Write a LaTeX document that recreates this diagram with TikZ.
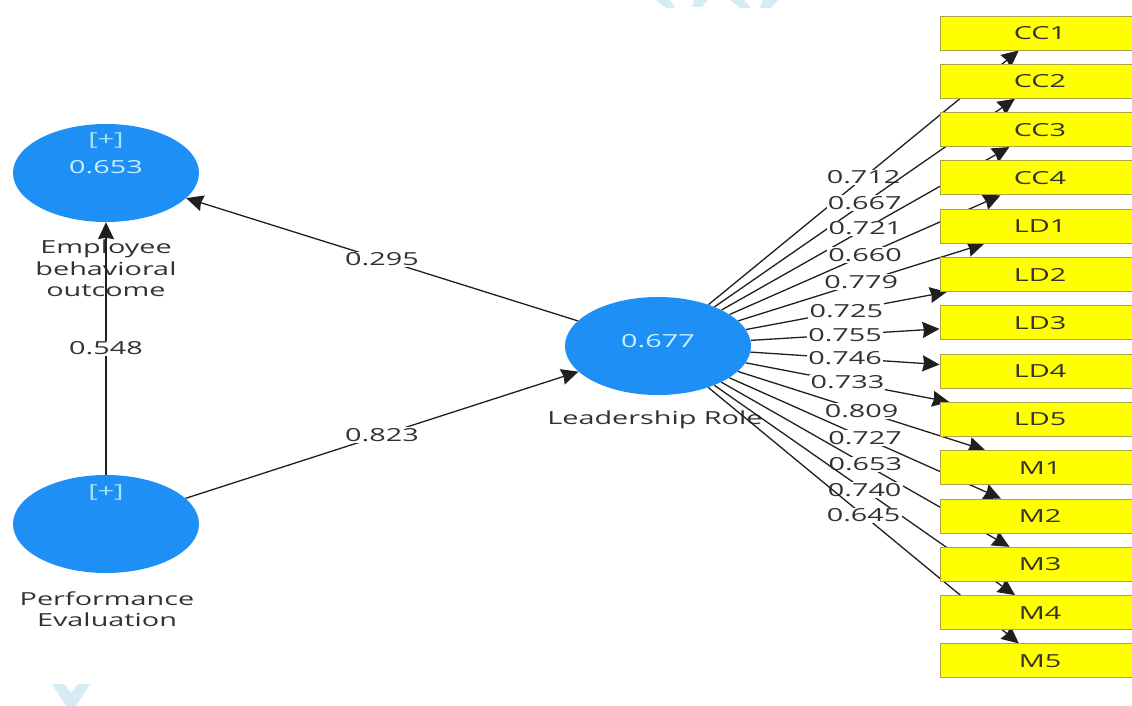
\documentclass[tikz,border=0pt]{standalone}
\usepackage{fontspec}
\setmainfont[FakeStretch=1.6]{Open Sans}
\usetikzlibrary{arrows.meta,shapes.geometric}
\definecolor{lvblue}{RGB}{30,144,245}
\definecolor{lvtext}{RGB}{200,240,255}
\definecolor{plustext}{RGB}{165,228,255}
\definecolor{indyellow}{RGB}{255,255,0}
\definecolor{indborder}{RGB}{170,165,70}
\definecolor{labelgray}{RGB}{50,50,50}
\definecolor{wmblue}{RGB}{214,236,243}
\pgfdeclarelayer{front}
\pgfsetlayers{main,front}

\begin{document}
\begin{tikzpicture}[x=1pt,y=-1pt,
  every node/.style={font=\fontsize{18}{21.5}\selectfont, text=labelgray},
  latent/.style={ellipse, fill=lvblue, minimum width=186pt, minimum height=98pt, inner sep=0pt},
  lvvalue/.style={text=lvtext, inner sep=0pt},
  lvplus/.style={text=plustext, inner sep=0pt},
  indicator/.style={rectangle, fill=indyellow, draw=indborder, line width=0.9pt,
    minimum width=200pt, minimum height=34pt, inner sep=0pt},
  conn/.style={draw=black!88, line width=1.3pt, -{Stealth[length=17pt,width=16pt,inset=1.5pt]}},
  coef/.style={fill=white, inner sep=1.2pt},
  caption/.style={align=center, inner sep=0pt},
  wmark/.style={fill=wmblue, draw=none},
  ]
\useasboundingbox (0,0) rectangle (1132,706);
\fill[white] (0,0) rectangle (1132,706);

% faint background marks
\path[wmark] (656,0) -- (670,0) -- (675,8) -- (666,8) -- cycle;
\path[wmark] (694,0) -- (708,0) -- (702,7) -- (692,7) -- cycle;
\path[wmark] (730,0) -- (744,0) -- (751,8) -- (740,8) -- cycle;
\path[wmark] (763,0) -- (778,0) -- (771,8) -- (760,8) -- cycle;
\path[wmark] (52,684) -- (64,684) -- (71,693) -- (78,684) -- (90,684) -- (76,706) -- (66,706) -- cycle;

% constructs and indicators sit above the connectors
\begin{pgfonlayer}{front}
  \node[latent] (EBO) at (106,173) {};
  \node[latent] (PE)  at (106,524) {};
  \node[latent] (LR)  at (658,346) {};
  \node[lvplus]  (EBOplus) at (106,140) {[+]};
  \node[lvvalue] (EBOr2)   at (106,167) {0.653};
  \node[lvplus]  (PEplus)  at (106,492) {[+]};
  \node[lvvalue] (LRr2)    at (658,341) {0.677};
  \foreach \name/\k in {CC1/0,CC2/1,CC3/2,CC4/3,LD1/4,LD2/5,LD3/6,LD4/7,LD5/8,M1/9,M2/10,M3/11,M4/12,M5/13}
    \node[indicator] (\name) at (1040,{33+48.3*\k}) {\name};
\end{pgfonlayer}

% construct captions
\node[caption] (EBOcap) at (106,268.5) {Employee\\behavioral\\outcome};
\node[caption] (PEcap)  at (107,609) {Performance\\Evaluation};
\node[caption] (LRcap)  at (655,420) {Leadership Role};

% structural paths
\draw[conn] (PE) -- node[coef] {0.548} (EBO);
\draw[conn] (LR) -- node[coef] {0.295} (EBO);
\draw[conn] (PE) -- node[coef] {0.823} (LR);

% outer loadings
\foreach \name/\v in {CC1/0.712,CC2/0.667,CC3/0.721,CC4/0.660,LD1/0.779,LD2/0.725,LD3/0.755,LD4/0.746,LD5/0.733,M1/0.809,M2/0.727,M3/0.653,M4/0.740,M5/0.645}
  \draw[conn] (LR) -- node[coef] {\v} (\name);
\end{tikzpicture}
\end{document}
